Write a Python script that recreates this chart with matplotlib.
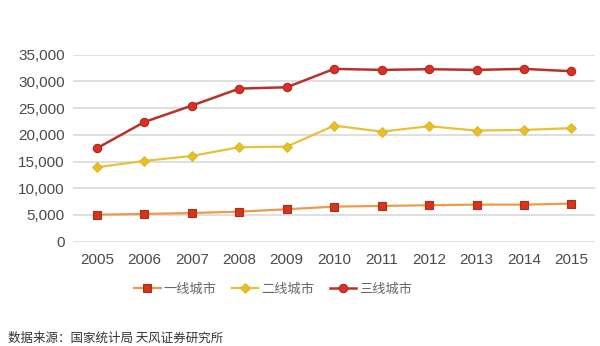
import matplotlib.pyplot as plt

plt.rcParams['font.family'] = ['Noto Sans CJK SC', 'DejaVu Sans']

years = ['2005', '2006', '2007', '2008', '2009', '2010', '2011', '2012', '2013', '2014', '2015']
tier1 = [5060, 5190, 5370, 5620, 6070, 6560, 6690, 6820, 6930, 6930, 7120]
tier2 = [13930, 15110, 16050, 17680, 17790, 21720, 20600, 21610, 20790, 20920, 21240]
tier3 = [17490, 22400, 25470, 28650, 28900, 32340, 32150, 32280, 32150, 32340, 31900]
labels = ['一线城市', '二线城市', '三线城市']
yticks = [0, 5000, 10000, 15000, 20000, 25000, 30000, 35000]

fig = plt.figure(figsize=(6, 3.46), dpi=100)
ax = fig.add_axes([0.122, 0.3015, 0.87, 0.5405])

x = range(len(years))
ax.plot(x, tier1, color='#ee9a4a', lw=1.6, marker='s', ms=6,
        mfc='#d8341c', mec='#a8301c', mew=0.8, label=labels[0], zorder=3)
ax.plot(x, tier2, color='#e6c23a', lw=1.6, marker='D', ms=5,
        mfc='#e8c020', mec='#d8b030', mew=0.6, label=labels[1], zorder=3)
ax.plot(x, tier3, color='#b8322a', lw=1.8, marker='o', ms=6,
        mfc='#dc3024', mec='#a82a22', mew=0.8, label=labels[2], zorder=3)

ax.set_xlim(-0.5, 10.5)
ax.set_ylim(0, 35000)
ax.set_yticks(yticks)
ax.set_yticklabels([f'{v:,}' for v in yticks])
ax.set_xticks(list(x))
ax.set_xticklabels(years)
ax.grid(axis='y', color='#d9d9d9', lw=1.2)
ax.set_axisbelow(True)
for s in ax.spines.values():
    s.set_visible(False)
ax.tick_params(length=0, labelsize=11, colors='#4a4a4a')
for t in ax.get_xticklabels() + ax.get_yticklabels():
    t.set_family(['Liberation Sans', 'DejaVu Sans'])
ax.tick_params(axis='x', pad=8)
ax.tick_params(axis='y', pad=6)

fig.legend(loc='center', bbox_to_anchor=(0.455, 0.163), ncol=3, frameon=False,
           fontsize=9.5, handlelength=2.0, columnspacing=1.2, handletextpad=0.2,
           labelcolor='#666666')

fig.text(0.013, 0.012, '数据来源：国家统计局 天风证券研究所', fontsize=9, color='#333333')

fig.savefig('out.png', dpi=100, facecolor='white')
